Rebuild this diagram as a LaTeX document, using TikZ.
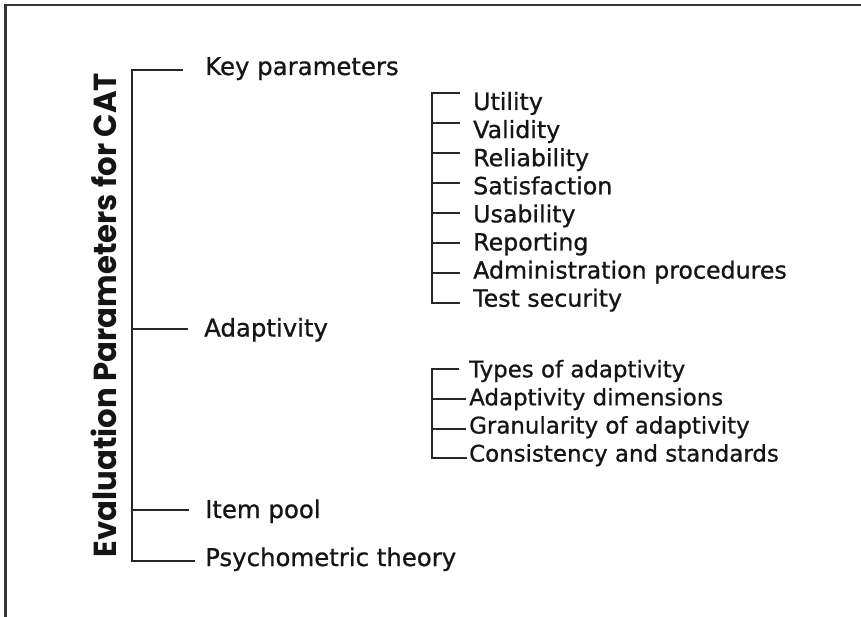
\documentclass[tikz,border=0pt]{standalone}
\usepackage{fontspec}
\setmainfont{DejaVu Sans}[FakeBold=0.8]
\newfontfamily\titlefont{Poppins}
\usepackage{graphicx}
\definecolor{txt}{HTML}{151515}
\definecolor{ln}{HTML}{262626}
\definecolor{bord}{HTML}{333333}
\begin{document}
\begin{tikzpicture}[x=1pt,y=-1pt,
  lbl/.style={anchor=base west, inner sep=0pt, text=txt, font=\fontsize{24.4}{28}\selectfont},
  sublbl/.style={lbl, font=\fontsize{23.7}{28}\selectfont},
  sublblb/.style={lbl, font=\fontsize{22.9}{28}\selectfont},
  br/.style={draw=ln, line width=1.8pt, line cap=butt},
  tick/.style={draw=ln, line width=1.8pt},
  border/.style={draw=bord, line width=2.8pt, line join=miter}
]
\useasboundingbox (0,0) rectangle (861,617);
\fill[white] (0,0) rectangle (861,617);
\draw[border] (861,5) -- (5.5,5) -- (5.5,617);

% title
\node[rotate=90, anchor=base, inner sep=0pt, text=txt] (title) at (116,315)
  {\resizebox{484pt}{25.5pt}{\titlefont\bfseries Evaluation Parameters for CAT}};

% main bracket
\coordinate (mT) at (132,70);
\coordinate (mB) at (132,561);
\coordinate (mA) at (132,329);
\coordinate (mI) at (132,510);
\coordinate (tK) at (183,70);
\coordinate (tA) at (188,329);
\coordinate (tI) at (189,510);
\coordinate (tP) at (195,561);
\node[lbl] (kp) at (205,75) {Key parameters};
\node[lbl] (ad) at (204,336.5) {Adaptivity};
\node[lbl] (ip) at (205,518) {Item pool};
\node[lbl] (pt) at (205,566) {Psychometric theory};
\draw[br] (tK) -- (mT) -- (mB) -- (tP);
\draw[tick] (mA) -- (tA);
\draw[tick] (mI) -- (tI);

% sub-list 1 (key parameters)
\foreach \i/\name/\t in {0/u1/Utility,1/u2/Validity,2/u3/Reliability,3/u4/Satisfaction,4/u5/Usability,5/u6/Reporting,6/u7/Administration procedures,7/u8/Test security}{
  \node[sublbl] (\name) at (473,110+28.1*\i) {\t};
  \coordinate (\name v) at (431.7,92.7+30*\i);
  \coordinate (\name e) at (460,92.7+30*\i);
}
\draw[br] (u1e) -- (u1v) -- (u8v) -- (u8e);
\foreach \name in {u2,u3,u4,u5,u6,u7}{\draw[tick] (\name v) -- (\name e);}

% sub-list 2 (adaptivity)
\foreach \i/\name/\t/\e in {0/a1/Types of adaptivity/459,1/a2/Adaptivity dimensions/466,2/a3/Granularity of adaptivity/466,3/a4/Consistency and standards/467}{
  \node[sublblb] (\name) at (469,377.3+28.1*\i) {\t};
  \coordinate (\name v) at (431.7,369.3+29.67*\i);
  \coordinate (\name e) at (\e,369.3+29.67*\i);
}
\draw[br] (a1e) -- (a1v) -- (a4v) -- (a4e);
\foreach \name in {a2,a3}{\draw[tick] (\name v) -- (\name e);}
\end{tikzpicture}
\end{document}
